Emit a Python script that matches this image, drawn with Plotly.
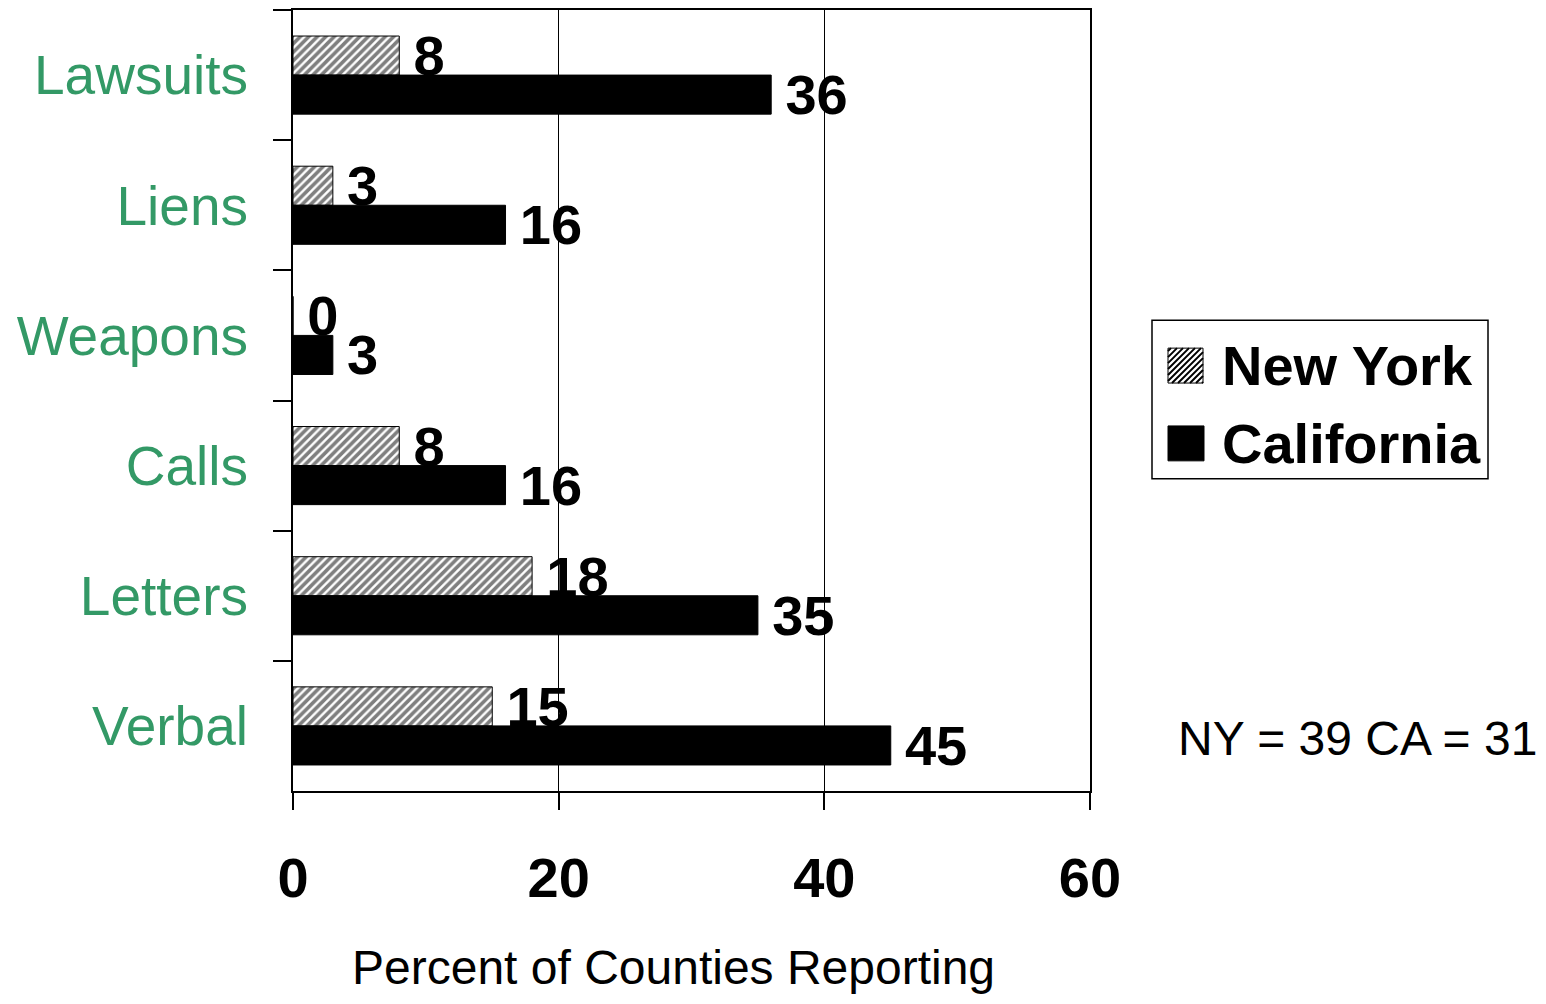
import plotly.graph_objects as go

categories = ["Lawsuits", "Liens", "Weapons", "Calls", "Letters", "Verbal"]
new_york = [8, 3, 0, 8, 18, 15]
california = [36, 16, 3, 16, 35, 45]
x_ticks = [0, 20, 40, 60]
series_names = ["New York", "California"]

GAP = "\u2009"
FONT = "Liberation Sans"

# pixel geometry of the plot area (screen coords) used to place decorations
PX_L, PX_R, PX_T, PX_B = 293, 1090, 8, 791


def px(x):
    return (x - PX_L) / (PX_R - PX_L)


def py(y):
    return (PX_B - y) / (PX_B - PX_T)


fig = go.Figure()
fig.add_trace(go.Bar(
    y=categories, x=new_york, orientation="h", name=series_names[0],
    marker=dict(color="white", line=dict(color="black", width=1),
                pattern=dict(shape="/", fgcolor="black", bgcolor="white", size=6, solidity=0.6)),
    text=[GAP + str(v) for v in new_york], textposition="outside",
    textfont=dict(family=FONT, size=56, color="black", weight="bold"),
    constraintext="none", cliponaxis=False, showlegend=False,
))
fig.add_trace(go.Bar(
    y=categories, x=california, orientation="h", name=series_names[1],
    marker=dict(color="black", line=dict(color="black", width=1)),
    text=[GAP + str(v) for v in california], textposition="outside",
    textfont=dict(family=FONT, size=56, color="black", weight="bold"),
    constraintext="none", cliponaxis=False, showlegend=False,
))

# ---- manual legend (box, swatches, labels) ----
shapes = []
shapes.append(dict(type="rect", xref="paper", yref="paper",
                   x0=px(1152), x1=px(1488), y0=py(478), y1=py(319),
                   line=dict(color="black", width=1.5), fillcolor="white", layer="below"))
# hatched swatch
sx0, sx1, sy0, sy1 = 1168, 1203, 347, 382
shapes.append(dict(type="rect", xref="paper", yref="paper",
                   x0=px(sx0), x1=px(sx1), y0=py(sy1), y1=py(sy0),
                   line=dict(color="black", width=1), fillcolor="white"))
s = sx1 - sx0
path = ""
k = -s + 3
while k < s:
    u0 = max(0, k)
    u1 = min(s, s + k)
    if u1 > u0:
        xa, ya = sx0 + u0, sy1 - (u0 - k)
        xb, yb = sx0 + u1, sy1 - (u1 - k)
        path += f"M{px(xa)},{py(ya)} L{px(xb)},{py(yb)} "
    k += 6
shapes.append(dict(type="path", xref="paper", yref="paper", path=path,
                   line=dict(color="black", width=2)))
# solid swatch
shapes.append(dict(type="rect", xref="paper", yref="paper",
                   x0=px(1168), x1=px(1204), y0=py(460), y1=py(425),
                   line=dict(color="black", width=1), fillcolor="black"))

annotations = [
    dict(text=series_names[0], xref="paper", yref="paper", x=px(1220), y=py(364),
         xanchor="left", yanchor="middle", showarrow=False,
         font=dict(family=FONT, size=56, color="black", weight="bold")),
    dict(text=series_names[1], xref="paper", yref="paper", x=px(1220), y=py(443),
         xanchor="left", yanchor="middle", showarrow=False,
         font=dict(family=FONT, size=56, color="black", weight="bold")),
    dict(text="Percent of Counties Reporting", xref="paper", yref="paper",
         x=px(673), y=py(968), xanchor="center", yanchor="middle",
         showarrow=False, font=dict(family=FONT, size=48, color="black")),
    dict(text="NY = 39 CA = 31", xref="paper", yref="paper",
         x=px(1176), y=py(738), xanchor="left", yanchor="middle",
         showarrow=False, font=dict(family=FONT, size=48, color="black")),
]

fig.update_layout(
    width=1530, height=988,
    margin=dict(l=285, r=448, t=0, b=205),
    paper_bgcolor="white", plot_bgcolor="white",
    barmode="group", bargap=0.4, bargroupgap=0,
    font=dict(family=FONT, color="black"),
    showlegend=False,
    shapes=shapes,
    annotations=annotations,
    xaxis=dict(range=[0, 60], tickvals=x_ticks, ticktext=[str(v) for v in x_ticks],
               showgrid=True, gridcolor="black", gridwidth=1, zeroline=False,
               showline=True, linecolor="black", linewidth=2, mirror=True,
               ticks="outside", ticklen=17, tickcolor="black", tickwidth=2,
               ticklabelstandoff=20,
               tickfont=dict(family=FONT, size=56, color="black", weight="bold")),
    yaxis=dict(autorange="reversed", tickson="boundaries",
               showgrid=False, showline=True, linecolor="black", linewidth=2, mirror=True,
               ticks="outside", ticklen=18, tickcolor="black", tickwidth=2,
               ticklabelstandoff=32,
               tickfont=dict(family=FONT, size=55, color="#339966")),
)

fig.write_html("out.html")
